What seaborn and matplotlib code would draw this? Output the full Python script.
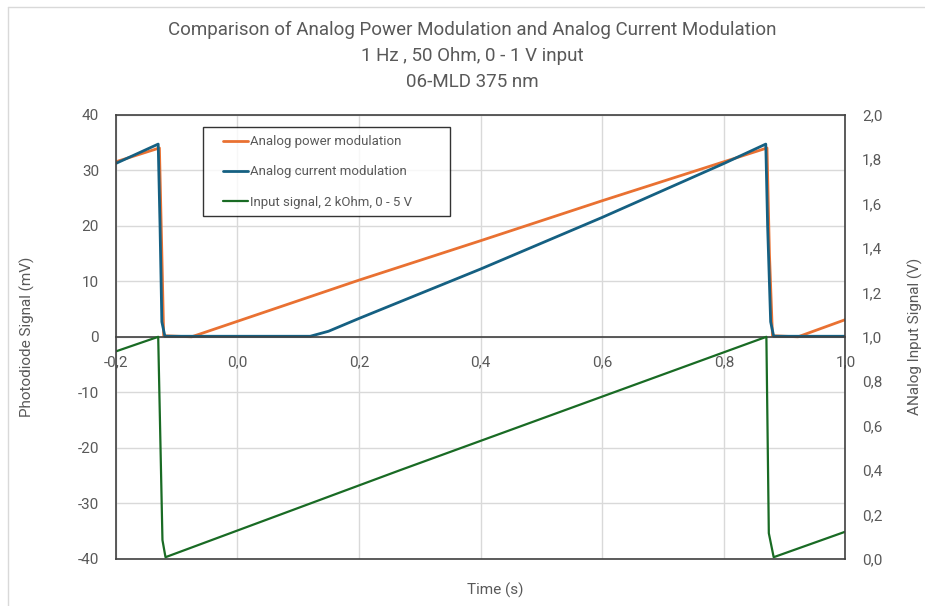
import numpy as np
import pandas as pd
import matplotlib
matplotlib.use("Agg")
import matplotlib.pyplot as plt
from matplotlib.ticker import FuncFormatter, MultipleLocator
from matplotlib.lines import Line2D
from matplotlib.legend_handler import HandlerLine2D
import seaborn as sns

# breakpoints
time_power = [-0.2, -0.128, -0.124, -0.121, -0.075, 0.2, 0.4, 0.6, 0.871, 0.875, 0.880, 0.922, 1.0]
power_mv = [31.5, 34.0, 15.0, 0.2, 0.0, 10.2, 17.3, 24.5, 34.0, 15.0, 0.2, 0.0, 3.1]

time_current = [-0.2, -0.130, -0.127, -0.124, -0.119, 0.120, 0.150, 0.2, 0.4, 0.6, 0.8,
                0.869, 0.872, 0.877, 0.882, 1.0]
current_mv = [31.2, 34.7, 20.0, 2.7, 0.1, 0.1, 1.0, 3.3, 12.2, 21.5, 31.2,
              34.7, 20.0, 2.7, 0.1, 0.1]

time_input = [-0.2, -0.130, -0.123, -0.118, 0.268, 0.870, 0.874, 0.882, 1.0]
input_v = [0.934, 1.0, 0.085, 0.008, 0.40, 1.0, 0.116, 0.008, 0.123]

labels = ["Analog power modulation", "Analog current modulation", "Input signal, 2 kOhm, 0 - 5 V"]
colors = ["#E97132", "#156082", "#196B24"]
grey = "#595959"

df_power = pd.DataFrame({"Time (s)": time_power, "mV": power_mv})
df_current = pd.DataFrame({"Time (s)": time_current, "mV": current_mv})
df_input = pd.DataFrame({"Time (s)": time_input, "V": input_v})


class ShortLine(HandlerLine2D):
    # legend line only on the right part of the handle box (extra left padding)
    def get_xdata(self, legend, xdescent, ydescent, width, height, fontsize):
        x = np.array([-xdescent + 0.32 * width, -xdescent + width])
        return x, x


sns.set_style("white")
plt.rcParams["font.family"] = ["Roboto", "DejaVu Sans"]

fig = plt.figure(figsize=(9.25, 6.06), dpi=100)
ax = fig.add_axes([0.125, 0.0776, 0.789, 0.7332])
ax2 = ax.twinx()

sns.lineplot(data=df_power, x="Time (s)", y="mV", ax=ax, color=colors[0], lw=2.0,
             label=labels[0], estimator=None, sort=False)
sns.lineplot(data=df_current, x="Time (s)", y="mV", ax=ax, color=colors[1], lw=2.0,
             label=labels[1], estimator=None, sort=False)
sns.lineplot(data=df_input, x="Time (s)", y="V", ax=ax2, color=colors[2], lw=1.6,
             label=labels[2], estimator=None, sort=False)

ax.set_xlim(-0.2, 1.0)
ax.set_ylim(-40, 40)
ax2.set_ylim(0, 2.0)
ax.xaxis.set_major_locator(MultipleLocator(0.2))
ax.yaxis.set_major_locator(MultipleLocator(10))
ax2.yaxis.set_major_locator(MultipleLocator(0.2))

comma1 = FuncFormatter(lambda v, p: f"{v:.1f}".replace(".", ","))
ax.xaxis.set_major_formatter(comma1)
ax2.yaxis.set_major_formatter(comma1)
ax.yaxis.set_major_formatter(FuncFormatter(lambda v, p: f"{v:.0f}"))

ax.grid(True, color="#D9D9D9", lw=1.0)
ax.set_axisbelow(True)

# x axis crosses at zero, frame from the twin axes
ax.spines["bottom"].set_position(("data", 0))
for s in ["left", "right", "top"]:
    ax.spines[s].set_visible(False)
ax.spines["bottom"].set_color("#404040")
ax.spines["bottom"].set_linewidth(1.2)
for s in ax2.spines.values():
    s.set_color("#404040")
    s.set_linewidth(1.2)

ax.tick_params(axis="x", length=0, pad=13, labelsize=11, labelcolor=grey)
ax.tick_params(axis="y", length=0, pad=12, labelsize=11, labelcolor=grey)
ax2.tick_params(axis="y", length=0, pad=12, labelsize=11, labelcolor=grey)

ax.set_xlabel("Time (s)", fontsize=11, color=grey)
ax.xaxis.set_label_coords(0.52, -0.054)
ax.set_ylabel("Photodiode Signal (mV)", fontsize=11, color=grey)
ax.yaxis.set_label_coords(-0.1105, 0.5)
ax2.set_ylabel("ANalog Input Signal (V)", fontsize=11, color=grey)
ax2.yaxis.set_label_coords(1.085, 0.5)

h1, l1 = ax.get_legend_handles_labels()
h2, l2 = ax2.get_legend_handles_labels()
if ax.get_legend():
    ax.get_legend().remove()
if ax2.get_legend():
    ax2.get_legend().remove()
leg = ax2.legend(h1 + h2, l1 + l2, loc="upper left",
                 bbox_to_anchor=(202.7 / 925, 1 - 216 / 606, 247.3 / 925, 88.7 / 606),
                 bbox_transform=fig.transFigure, mode="expand",
                 handler_map={Line2D: ShortLine()},
                 fontsize=9.5, frameon=True, fancybox=False,
                 edgecolor="black", handlelength=2.85, handletextpad=0.15, labelspacing=1.3,
                 borderpad=0.6, borderaxespad=0)
leg.get_frame().set_linewidth(1.0)
for t in leg.get_texts():
    t.set_color(grey)

title_lines = ["Comparison of Analog Power Modulation and Analog Current Modulation",
               "1 Hz , 50 Ohm, 0 - 1 V input",
               "06-MLD 375 nm"]
for i, line in enumerate(title_lines):
    fig.text(0.511, 1 - (30 + 26 * i) / 606, line, ha="center", va="center",
             fontsize=13.5, color=grey)

# outer chart border (partly cropped)
fig.add_artist(Line2D([8 / 925, 8 / 925], [0, 1 - 7 / 606], color="#D9D9D9", lw=1))
fig.add_artist(Line2D([8 / 925, 1], [1 - 7 / 606, 1 - 7 / 606], color="#D9D9D9", lw=1))

fig.savefig("out.png", dpi=100)
